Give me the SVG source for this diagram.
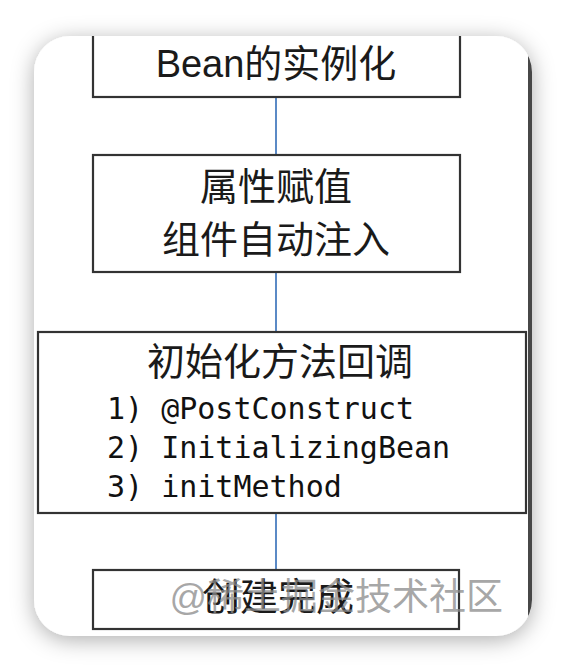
<svg xmlns="http://www.w3.org/2000/svg" width="568" height="672" viewBox="0 0 568 672">
  <defs>
    <filter id="shadow" x="-20%" y="-20%" width="140%" height="140%">
      <feDropShadow dx="0" dy="4" stdDeviation="11" flood-color="#000" flood-opacity="0.32"/>
    </filter>
    <clipPath id="cardClip">
      <rect x="34" y="36" width="498" height="600" rx="36" ry="36"/>
    </clipPath>
    <style>
      .box { fill: #fff; stroke: #333; stroke-width: 2.2; }
      .conn { stroke: #5b8ac6; stroke-width: 2; fill: none; }
      .cjk { font-family: "Liberation Sans", "Noto Sans CJK SC", sans-serif; font-size: 38px; fill: #1a1a1a; text-anchor: middle; }
      .mono { font-family: "DejaVu Sans Mono", "Liberation Mono", monospace; font-size: 30px; fill: #111; }
      .wm { font-family: "Liberation Sans", "Noto Sans CJK SC", sans-serif; font-size: 37px; fill: #8a8a8a; fill-opacity: 0.75; text-anchor: end; }
    </style>
  </defs>
  <rect x="0" y="0" width="568" height="672" fill="#fff"/>
  <rect x="34" y="36" width="498" height="600" rx="36" ry="36" fill="#fff" filter="url(#shadow)"/>
  <g clip-path="url(#cardClip)">
    <rect x="528" y="36" width="4" height="600" fill="#474747"/>
    <g id="connectors">
      <line class="conn" x1="276" y1="97" x2="276" y2="155"/>
      <line class="conn" x1="276" y1="272" x2="276" y2="332"/>
      <line class="conn" x1="276" y1="513" x2="276" y2="570"/>
    </g>
    <g id="node-instantiate">
      <rect class="box" x="93" y="16" width="367" height="81"/>
      <text class="cjk" x="276" y="77">Bean的实例化</text>
    </g>
    <g id="node-populate">
      <rect class="box" x="93" y="155" width="367" height="117"/>
      <text class="cjk" x="276" y="200">属性赋值</text>
      <text class="cjk" x="276" y="253">组件自动注入</text>
    </g>
    <g id="node-init">
      <rect class="box" x="38" y="332" width="488" height="181"/>
      <text class="cjk" x="280" y="375">初始化方法回调</text>
      <text class="mono" x="107" y="419">1) @PostConstruct</text>
      <text class="mono" x="107" y="458">2) InitializingBean</text>
      <text class="mono" x="107" y="497">3) initMethod</text>
    </g>
    <g id="node-done">
      <rect class="box" x="93" y="570" width="366" height="59"/>
      <text class="cjk" x="278" y="610">创建完成</text>
    </g>
    <text class="wm" x="503" y="610">@稀土掘金技术社区</text>
  </g>
</svg>
